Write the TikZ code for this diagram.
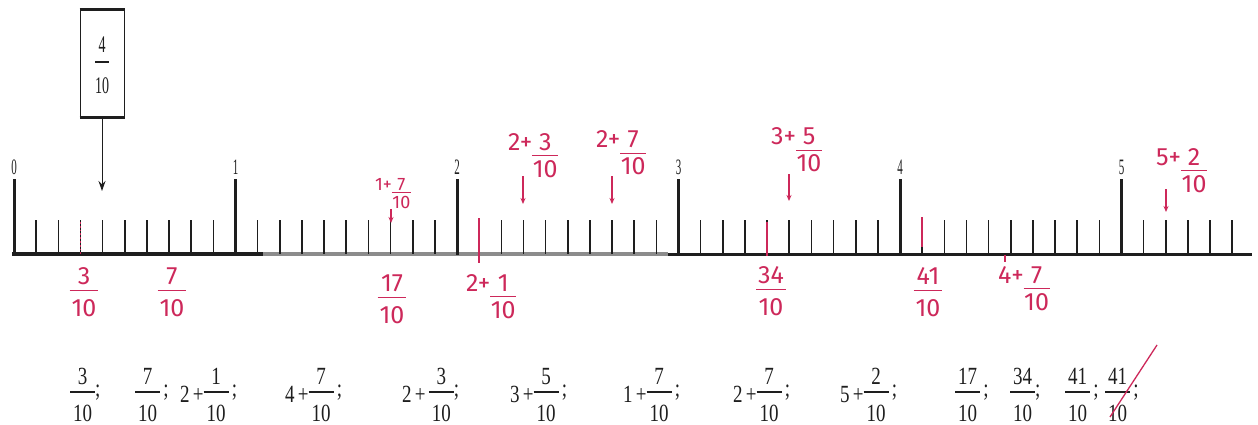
\documentclass[tikz,border=0pt]{standalone}
\usepackage{fontspec}
\setmainfont{Liberation Serif}
\newfontfamily\hand{Fira Sans}
\usepackage{graphicx}
\usetikzlibrary{arrows.meta}
\definecolor{ink}{RGB}{205,40,90}
\definecolor{pr}{RGB}{30,30,30}
\setlength\arrayrulewidth{1pt}
% black printed fraction (bottom row)
\newcommand\bfr[2]{\begin{tabular}[c]{@{\hspace{3pt}}c@{\hspace{3pt}}}#1\\[-2pt]\hline\rule{0pt}{22pt}#2\end{tabular}}
\newcommand\semi{\raisebox{5pt}{;}}
% fraction in the box
\newcommand\xfr[2]{\begin{tabular}[c]{@{}c@{}}#1\\\hline\rule{0pt}{18pt}#2\end{tabular}}
% red handwritten fractions
\newcommand\rfr[2]{\begin{tabular}[t]{@{\hspace{2pt}}c@{\hspace{2pt}}}#1\\[-3pt]\hline\rule{0pt}{25pt}#2\end{tabular}}
\newcommand\mfr[2]{\begin{tabular}[t]{@{\hspace{0.5pt}}c@{\hspace{0.5pt}}}#1\\[-4pt]\hline\rule{0pt}{18pt}#2\end{tabular}}
\newcommand\sfr[2]{\begin{tabular}[t]{@{\hspace{0.5pt}}c@{\hspace{0.5pt}}}#1\\[-4pt]\hline\rule{0pt}{14pt}#2\end{tabular}}
\begin{document}
\begin{tikzpicture}[x=1pt,y=-1pt,
  axisline/.style={line width=3.5pt,draw=pr},
  major/.style={line width=3pt,draw=pr},
  minor/.style={line width=1.6pt,draw=pr},
  numlab/.style={anchor=base,inner sep=0pt,text=pr,font=\fontsize{11}{13}\selectfont},
  bot/.style={anchor=west,inner sep=0pt,text=pr,font=\fontsize{19}{23}\selectfont},
  hand/.style={anchor=base,inner sep=0pt,text=ink,font=\hand\fontsize{25}{30}\selectfont},
  handm/.style={anchor=base west,inner sep=0pt,text=ink,font=\hand\fontsize{25}{30}\selectfont},
  rarr/.style={draw=ink,line width=1.1pt,-{Stealth[length=6pt,width=5pt]}},
  rmark/.style={draw=ink,line width=1.8pt}]
\useasboundingbox (0,0) rectangle (1258,425);
\fill[white] (0,0) rectangle (1258,425);

% number line
\draw[axisline] (12,254) -- (263,254);
\draw[axisline,draw=black!45] (263,254) -- (668,254);
\draw[axisline,line width=3pt] (668,254) -- (1252,254);
\foreach \i in {1,...,55}{
  \pgfmathtruncatemacro\r{mod(\i,10)}
  \ifnum\r=0\relax\else
    \draw[minor] ({14+\i*22.15},220) -- ({14+\i*22.15},254);
  \fi}
\foreach \k in {0,...,5}{
  \draw[major] ({14+\k*221.5},179) -- ({14+\k*221.5},255);
  \node[numlab] (lab\k) at ({14+\k*221.5},174) {\scalebox{1}[2]{\k}};}

% box with 4/10 and arrow
\node[draw=pr,line width=1pt,minimum width=44pt,minimum height=107pt,inner sep=0pt] (box) at (102,63.5) {};
\draw[pr,line width=2.2pt] (box.north west) -- (box.north east);
\draw[pr,line width=2.2pt] (box.south west) -- (box.south east);
\node[inner sep=0pt,text=pr,font=\fontsize{14}{17}\selectfont] (boxfrac) at (102,67) {\scalebox{1}[1.7]{\xfr{4}{10}}};
\coordinate (tip) at (102,191);
\draw[pr,line width=1pt,-{Stealth[length=10pt,width=7pt]}] (box.south) -- (tip);

% red marks on ticks
\draw[rmark,dotted,line width=1.4pt] (80.5,222) -- (80.5,254);
\draw[rmark] (479,218) -- (479,263);
\draw[rmark] (767,222) -- (767,256);
\draw[rmark,line width=2.6pt] (922,217) -- (922,247);
\draw[rmark,line width=1.4pt] (1005,255) -- (1005,262);

% red handwritten labels
\node[hand] (r1) at (84,284) {\rfr{3}{10}};
\node[hand] (r2) at (172,284) {\rfr{7}{10}};
\node[hand] (r4) at (392,291) {\rfr{17}{10}};
\node[hand] (r9) at (771,283) {\rfr{34}{10}};
\node[hand] (r10) at (928,284) {\rfr{41}{10}};
\node[handm,font=\hand\fontsize{18}{21}\selectfont] (r3) at (375,190) {1+\sfr{7}{10}};
\node[handm] (r5) at (466,291) {2+\mfr{1}{10}};
\node[handm] (r6) at (508,150) {2+\mfr{3}{10}};
\node[handm] (r7) at (596,148) {2+\mfr{7}{10}};
\node[handm] (r8) at (771,145) {3+\mfr{5}{10}};
\node[handm] (r11) at (998,283) {4+\mfr{7}{10}};
\node[handm] (r12) at (1156,165) {5+\mfr{2}{10}};

% red arrows
\coordinate (a17s) at (391,209); \coordinate (a17e) at (391,223);
\coordinate (a23s) at (523,176); \coordinate (a23e) at (523,204);
\coordinate (a27s) at (612,176); \coordinate (a27e) at (612,204);
\coordinate (a35s) at (789,174); \coordinate (a35e) at (789,201);
\coordinate (a52s) at (1166,189); \coordinate (a52e) at (1166,212);
\draw[rarr] (a17s) -- (a17e);
\draw[rarr] (a23s) -- (a23e);
\draw[rarr] (a27s) -- (a27e);
\draw[rarr] (a35s) -- (a35e);
\draw[rarr] (a52s) -- (a52e);

% bottom printed list
\node[bot] (b1) at (70,397) {\scalebox{1}[1.3]{\bfr{3}{10}\semi}};
\node[bot] (b2) at (135,397) {\scalebox{1}[1.3]{\bfr{7}{10}\,\semi}};
\node[bot] (b3) at (180,397) {\scalebox{1}[1.3]{2\,+\bfr{1}{10}\,\semi}};
\node[bot] (b4) at (285,397) {\scalebox{1}[1.3]{4\,+\bfr{7}{10}\,\semi}};
\node[bot] (b5) at (402,397) {\scalebox{1}[1.3]{2\,+\,\bfr{3}{10}\semi}};
\node[bot] (b6) at (510,397) {\scalebox{1}[1.3]{3\,+\bfr{5}{10}\,\semi}};
\node[bot] (b7) at (623,397) {\scalebox{1}[1.3]{1\,+\bfr{7}{10}\,\semi}};
\node[bot] (b8) at (733,397) {\scalebox{1}[1.3]{2\,+\bfr{7}{10}\,\semi}};
\node[bot] (b9) at (840,397) {\scalebox{1}[1.3]{5\,+\bfr{2}{10}\,\semi}};
\node[bot] (b10) at (955,397) {\scalebox{1}[1.3]{\bfr{17}{10}\,\semi}};
\node[bot] (b11) at (1010,397) {\scalebox{1}[1.3]{\bfr{34}{10}\semi}};
\node[bot] (b12) at (1065,397) {\scalebox{1}[1.3]{\bfr{41}{10}\,\semi}};
\node[bot] (b13) at (1105,397) {\scalebox{1}[1.3]{\bfr{41}{10}\,\semi}};
% red strike-through of the last item
\draw[draw=ink,line width=1.3pt] (1110,417) -- (1157,345);
\end{tikzpicture}
\end{document}
